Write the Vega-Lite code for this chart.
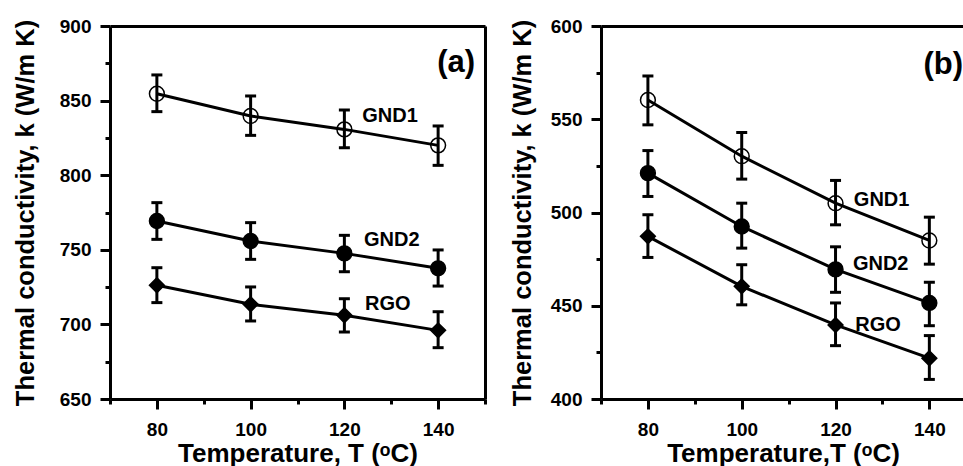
{
  "$schema": "https://vega.github.io/schema/vega-lite/v6.json",
  "background": "white",
  "padding": {"left": 13, "top": 17, "right": 0, "bottom": 0},
  "spacing": 116,
  "bounds": "flush",
  "config": {
    "view": {"stroke": null},
    "font": "Liberation Sans",
    "axis": {
      "grid": false, "domainColor": "black", "domainWidth": 3, "tickColor": "black", "tickWidth": 3,
      "labelColor": "black", "labelFont": "Liberation Sans", "labelFontWeight": "bold", "labelFontSize": 19,
      "titleColor": "black", "titleFont": "Liberation Sans", "titleFontWeight": "bold",
      "labelFlush": false, "labelOverlap": false
    },
    "axisX": {"labelPadding": 11, "titlePadding": 1, "titleFontSize": 26},
    "axisY": {"labelPadding": 9, "titlePadding": 21, "titleFontSize": 25.5}
  },
  "datasets": {
    "a": [
      {"series": "GND1", "T": 80, "k": 854.6, "lo": 842.6, "hi": 867.2},
      {"series": "GND1", "T": 100, "k": 839.7, "lo": 826.7, "hi": 853.1},
      {"series": "GND1", "T": 120, "k": 830.7, "lo": 818.4, "hi": 843.7},
      {"series": "GND1", "T": 140, "k": 820.0, "lo": 806.6, "hi": 833.0},
      {"series": "GND2", "T": 80, "k": 769.3, "lo": 757.0, "hi": 781.6},
      {"series": "GND2", "T": 100, "k": 755.9, "lo": 743.6, "hi": 768.2},
      {"series": "GND2", "T": 120, "k": 747.6, "lo": 735.3, "hi": 759.7},
      {"series": "GND2", "T": 140, "k": 737.6, "lo": 725.7, "hi": 749.9},
      {"series": "RGO", "T": 80, "k": 726.2, "lo": 714.6, "hi": 738.0},
      {"series": "RGO", "T": 100, "k": 713.5, "lo": 702.3, "hi": 725.1},
      {"series": "RGO", "T": 120, "k": 706.1, "lo": 694.9, "hi": 717.2},
      {"series": "RGO", "T": 140, "k": 696.0, "lo": 684.4, "hi": 708.5}
    ],
    "b": [
      {"series": "GND1", "T": 80, "k": 560.3, "lo": 547.0, "hi": 573.2},
      {"series": "GND1", "T": 100, "k": 530.2, "lo": 517.9, "hi": 542.9},
      {"series": "GND1", "T": 120, "k": 505.0, "lo": 493.4, "hi": 517.2},
      {"series": "GND1", "T": 140, "k": 485.0, "lo": 472.3, "hi": 497.5},
      {"series": "GND2", "T": 80, "k": 521.1, "lo": 508.6, "hi": 533.2},
      {"series": "GND2", "T": 100, "k": 492.5, "lo": 480.9, "hi": 505.0},
      {"series": "GND2", "T": 120, "k": 469.5, "lo": 457.2, "hi": 481.6},
      {"series": "GND2", "T": 140, "k": 451.5, "lo": 439.3, "hi": 462.6},
      {"series": "RGO", "T": 80, "k": 487.2, "lo": 475.9, "hi": 498.8},
      {"series": "RGO", "T": 100, "k": 460.4, "lo": 450.5, "hi": 472.0},
      {"series": "RGO", "T": 120, "k": 439.7, "lo": 428.6, "hi": 451.5},
      {"series": "RGO", "T": 140, "k": 421.9, "lo": 410.5, "hi": 434.0}
    ],
    "la": [
      {"T": 123.8, "k": 839.7, "label": "GND1"},
      {"T": 124.2, "k": 756.6, "label": "GND2"},
      {"T": 124.4, "k": 713.9, "label": "RGO"}
    ],
    "lb": [
      {"T": 123.9, "k": 506.8, "label": "GND1"},
      {"T": 123.7, "k": 472.4, "label": "GND2"},
      {"T": 124.2, "k": 439.8, "label": "RGO"}
    ],
    "pa": [{"T": 147.9, "k": 875.2, "label": "(a)"}],
    "pb": [{"T": 147.2, "k": 579.0, "label": "(b)"}]
  },
  "hconcat": [
    {
      "width": 375,
      "height": 373,
      "resolve": {"axis": {"x": "independent", "y": "independent"}},
      "layer": [
        {
          "data": {"name": "a"},
          "mark": {"type": "line", "stroke": "black", "strokeWidth": 3},
          "encoding": {
            "x": {"field": "T", "type": "quantitative", "scale": {"domain": [70, 150], "nice": false, "zero": false},
                  "axis": {"orient": "bottom", "values": [80, 100, 120, 140], "tickSize": 10, "title": "Temperature, T (ᵒC)"}},
            "y": {"field": "k", "type": "quantitative", "scale": {"domain": [650, 900], "nice": false, "zero": false},
                  "axis": {"orient": "left", "values": [650, 700, 750, 800, 850, 900], "tickSize": 10, "title": "Thermal conductivity, k (W/m K)"}},
            "detail": {"field": "series", "type": "nominal"}
          }
        },
        {
          "data": {"name": "a"},
          "mark": {"type": "rule", "strokeWidth": 3, "color": "black"},
          "encoding": {
            "x": {"field": "T", "type": "quantitative",
                  "axis": {"orient": "bottom", "values": [70, 90, 110, 130, 150], "tickSize": 5, "labels": false, "domain": false, "title": null}},
            "y": {"field": "lo", "type": "quantitative",
                  "axis": {"orient": "left", "values": [675, 725, 775, 825, 875], "tickSize": 5, "labels": false, "domain": false, "title": null}},
            "y2": {"field": "hi"}
          }
        },
        {
          "data": {"name": "a"},
          "mark": {"type": "tick", "orient": "horizontal", "size": 11, "thickness": 3, "color": "black", "opacity": 1},
          "encoding": {
            "x": {"field": "T", "type": "quantitative", "axis": {"orient": "top", "labels": false, "ticks": false, "title": null}},
            "y": {"field": "lo", "type": "quantitative", "axis": {"orient": "right", "labels": false, "ticks": false, "title": null}}
          }
        },
        {
          "data": {"name": "a"},
          "mark": {"type": "tick", "orient": "horizontal", "size": 11, "thickness": 3, "color": "black", "opacity": 1},
          "encoding": {
            "x": {"field": "T", "type": "quantitative", "axis": null},
            "y": {"field": "hi", "type": "quantitative", "axis": null}
          }
        },
        {
          "data": {"name": "a"},
          "mark": {"type": "point", "filled": true, "stroke": "black", "strokeWidth": 1.5, "opacity": 1, "size": 220},
          "encoding": {
            "x": {"field": "T", "type": "quantitative", "axis": null},
            "y": {"field": "k", "type": "quantitative", "axis": null},
            "shape": {"field": "series", "type": "nominal", "scale": {"domain": ["GND1", "GND2", "RGO"], "range": ["circle", "circle", "diamond"]}, "legend": null},
            "fill": {"field": "series", "type": "nominal", "scale": {"domain": ["GND1", "GND2", "RGO"], "range": ["transparent", "black", "black"]}, "legend": null}
          }
        },
        {
          "data": {"name": "la"},
          "mark": {"type": "text", "align": "left", "baseline": "middle", "font": "Liberation Sans", "fontWeight": "bold", "fontSize": 20, "color": "black"},
          "encoding": {
            "x": {"field": "T", "type": "quantitative", "axis": null},
            "y": {"field": "k", "type": "quantitative", "axis": null},
            "text": {"field": "label"}
          }
        },
        {
          "data": {"name": "pa"},
          "mark": {"type": "text", "align": "right", "baseline": "middle", "font": "Liberation Sans", "fontWeight": "bold", "fontSize": 31, "color": "black"},
          "encoding": {
            "x": {"field": "T", "type": "quantitative", "axis": null},
            "y": {"field": "k", "type": "quantitative", "axis": null},
            "text": {"field": "label"}
          }
        }
      ]
    },
    {
      "width": 364,
      "height": 373,
      "resolve": {"axis": {"x": "independent", "y": "independent"}},
      "layer": [
        {
          "data": {"name": "b"},
          "mark": {"type": "line", "stroke": "black", "strokeWidth": 3},
          "encoding": {
            "x": {"field": "T", "type": "quantitative", "scale": {"domain": [70, 147.6], "nice": false, "zero": false},
                  "axis": {"orient": "bottom", "values": [80, 100, 120, 140], "tickSize": 10, "title": "Temperature,T (ᵒC)"}},
            "y": {"field": "k", "type": "quantitative", "scale": {"domain": [400, 600], "nice": false, "zero": false},
                  "axis": {"orient": "left", "values": [400, 450, 500, 550, 600], "tickSize": 10, "titlePadding": 15, "title": "Thermal conductivity, k (W/m K)"}},
            "detail": {"field": "series", "type": "nominal"}
          }
        },
        {
          "data": {"name": "b"},
          "mark": {"type": "rule", "strokeWidth": 3, "color": "black"},
          "encoding": {
            "x": {"field": "T", "type": "quantitative",
                  "axis": {"orient": "bottom", "values": [70, 90, 110, 130], "tickSize": 5, "labels": false, "domain": false, "title": null}},
            "y": {"field": "lo", "type": "quantitative",
                  "axis": {"orient": "left", "values": [425, 475, 525, 575], "tickSize": 5, "labels": false, "domain": false, "title": null}},
            "y2": {"field": "hi"}
          }
        },
        {
          "data": {"name": "b"},
          "mark": {"type": "tick", "orient": "horizontal", "size": 11, "thickness": 3, "color": "black", "opacity": 1},
          "encoding": {
            "x": {"field": "T", "type": "quantitative", "axis": {"orient": "top", "labels": false, "ticks": false, "title": null}},
            "y": {"field": "lo", "type": "quantitative", "axis": null}
          }
        },
        {
          "data": {"name": "b"},
          "mark": {"type": "tick", "orient": "horizontal", "size": 11, "thickness": 3, "color": "black", "opacity": 1},
          "encoding": {
            "x": {"field": "T", "type": "quantitative", "axis": null},
            "y": {"field": "hi", "type": "quantitative", "axis": null}
          }
        },
        {
          "data": {"name": "b"},
          "mark": {"type": "point", "filled": true, "stroke": "black", "strokeWidth": 1.5, "opacity": 1, "size": 220},
          "encoding": {
            "x": {"field": "T", "type": "quantitative", "axis": null},
            "y": {"field": "k", "type": "quantitative", "axis": null},
            "shape": {"field": "series", "type": "nominal", "scale": {"domain": ["GND1", "GND2", "RGO"], "range": ["circle", "circle", "diamond"]}, "legend": null},
            "fill": {"field": "series", "type": "nominal", "scale": {"domain": ["GND1", "GND2", "RGO"], "range": ["transparent", "black", "black"]}, "legend": null}
          }
        },
        {
          "data": {"name": "lb"},
          "mark": {"type": "text", "align": "left", "baseline": "middle", "font": "Liberation Sans", "fontWeight": "bold", "fontSize": 20, "color": "black"},
          "encoding": {
            "x": {"field": "T", "type": "quantitative", "axis": null},
            "y": {"field": "k", "type": "quantitative", "axis": null},
            "text": {"field": "label"}
          }
        },
        {
          "data": {"name": "pb"},
          "mark": {"type": "text", "align": "right", "baseline": "middle", "font": "Liberation Sans", "fontWeight": "bold", "fontSize": 31, "color": "black"},
          "encoding": {
            "x": {"field": "T", "type": "quantitative", "axis": null},
            "y": {"field": "k", "type": "quantitative", "axis": null},
            "text": {"field": "label"}
          }
        }
      ]
    }
  ]
}
